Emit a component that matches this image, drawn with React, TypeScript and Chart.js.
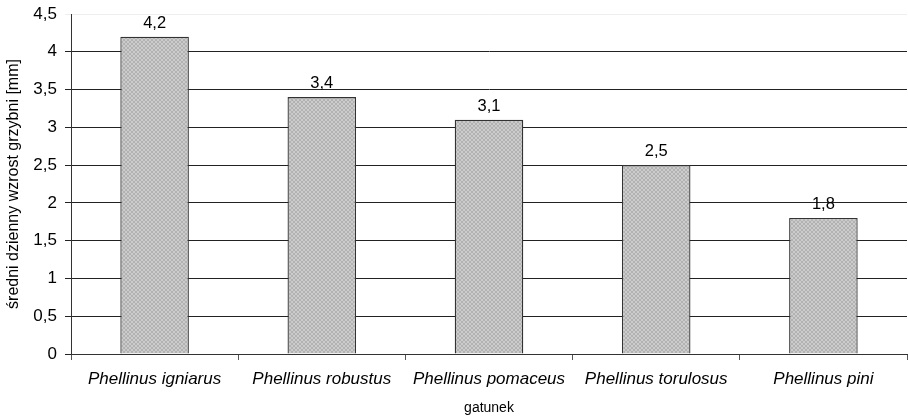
import React, { useEffect, useRef } from "react";
import { Chart, registerables } from "chart.js";

Chart.register(...registerables);

const categories = [
  "Phellinus igniarus",
  "Phellinus robustus",
  "Phellinus pomaceus",
  "Phellinus torulosus",
  "Phellinus pini",
];
const values = [4.2, 3.4, 3.1, 2.5, 1.8];
const yTitle = "średni dzienny wzrost grzybni [mm]";
const xTitle = "gatunek";

const FONT = "'Liberation Sans', Arial, sans-serif";

function makePattern(): CanvasPattern | string {
  const c = document.createElement("canvas");
  c.width = 4;
  c.height = 4;
  const g = c.getContext("2d");
  if (!g) return "#c0c0c0";
  g.fillStyle = "#cbcbcb";
  g.fillRect(0, 0, 4, 4);
  g.fillStyle = "#b2b2b2";
  for (let i = 0; i < 4; i++) {
    g.fillRect(i, i, 1, 1);
    g.fillRect(3 - i, i, 1, 1);
  }
  const p = g.createPattern(c, "repeat");
  return p || "#c0c0c0";
}

const valueLabels = {
  id: "valueLabels",
  afterDatasetsDraw(chart: any) {
    const ctx = chart.ctx;
    const meta = chart.getDatasetMeta(0);
    ctx.save();
    ctx.font = `16.5px ${FONT}`;
    ctx.fillStyle = "#000";
    ctx.textAlign = "center";
    ctx.textBaseline = "alphabetic";
    meta.data.forEach((el: any, i: number) => {
      const v = values[i];
      ctx.fillText(String(v).replace(".", ","), el.x, el.y - 9);
    });
    ctx.restore();
  },
};

export default function App() {
  const ref = useRef<HTMLCanvasElement>(null);
  useEffect(() => {
    document.body.style.margin = "0";
    const canvas = ref.current!;
    const chart = new Chart(canvas, {
      type: "bar",
      data: {
        labels: categories,
        datasets: [
          {
            data: values,
            backgroundColor: makePattern() as any,
            borderColor: "#333",
            borderWidth: 1.3,
            barPercentage: 0.41,
            categoryPercentage: 1,
          },
        ],
      },
      plugins: [valueLabels],
      options: {
        animation: false,
        responsive: false,
        maintainAspectRatio: false,
        layout: { padding: { top: 14, right: 1, left: 0, bottom: 0 } },
        plugins: { legend: { display: false }, tooltip: { enabled: false } },
        scales: {
          x: {
            grid: {
              offset: true,
              drawOnChartArea: false,
              drawTicks: true,
              tickLength: 6,
              color: "#555",
            },
            border: { color: "#333", width: 1 },
            ticks: {
              color: "#000",
              font: { family: FONT, size: 17, style: "italic" },
              padding: 9,
              maxRotation: 0,
              autoSkip: false,
            },
            title: {
              display: true,
              text: xTitle,
              color: "#000",
              font: { family: FONT, size: 14 },
              padding: { top: 0, bottom: 2 },
            },
            afterFit(scale: any) {
              scale.height = 65;
            },
          },
          y: {
            min: 0,
            max: 4.5,
            ticks: {
              stepSize: 0.5,
              color: "#000",
              font: { family: FONT, size: 17, lineHeight: 0.5 },
              padding: 8,
              callback: (v: any) => String(v).replace(".", ","),
            },
            grid: {
              tickLength: 6,
              color: (c: any) => (c.tick && c.tick.value === 4.5 ? "#eeeeee" : "#222"),
            },
            border: { color: "#333", width: 1 },
            title: {
              display: true,
              text: yTitle,
              color: "#000",
              font: { family: FONT, size: 16 },
              padding: { top: 4, bottom: 0 },
            },
            afterFit(scale: any) {
              scale.width = 71;
            },
          },
        },
      },
    });
    return () => chart.destroy();
  }, []);
  return <canvas ref={ref} width={908} height={419} style={{ display: "block" }} />;
}
